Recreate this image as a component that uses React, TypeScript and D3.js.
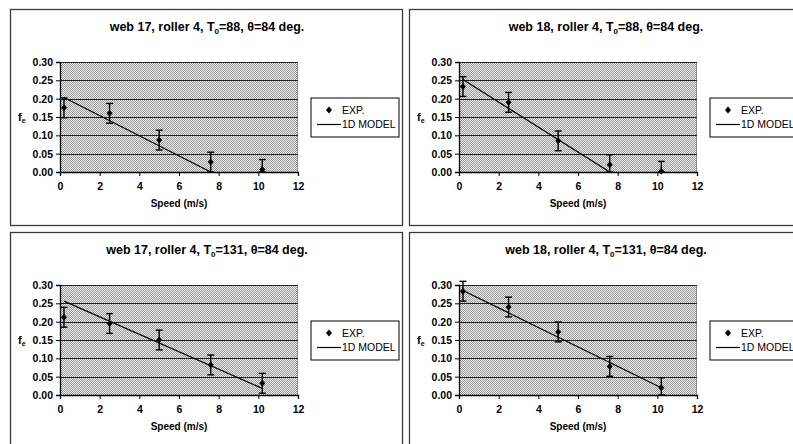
import * as d3 from "d3";
import { useEffect, useRef } from "react";

// speeds at which the experiments were run (m/s)
const speeds = [0.2, 2.5, 5.0, 7.6, 10.2];

// measured fe values, one array per chart
const exp17T88 = [0.175, 0.16, 0.087, 0.027, 0.007];
const exp18T88 = [0.233, 0.19, 0.085, 0.02, 0.002];
const exp17T131 = [0.212, 0.195, 0.15, 0.082, 0.032];
const exp18T131 = [0.283, 0.24, 0.172, 0.078, 0.02];

// half height of the error bars
const errorHalf = 0.027;

// 1D model lines, end points
const model17T88 = { x: [0.2, 7.6], y: [0.203, 0] };
const model18T88 = { x: [0.2, 7.6], y: [0.252, 0] };
const model17T131 = { x: [0.2, 10.2], y: [0.256, 0.018] };
const model18T131 = { x: [0.2, 10.2], y: [0.285, 0.02] };

const xTicks = [0, 2, 4, 6, 8, 10, 12];
const yTicks = [0, 0.05, 0.1, 0.15, 0.2, 0.25, 0.3];
const legendLabels = ["EXP.", "1D MODEL"];

const FONT = "'Liberation Sans', Arial, sans-serif";

interface PanelSpec {
  ox: number;
  oy: number;
  web: string;
  t0: string;
  exp: number[];
  model: { x: number[]; y: number[] };
}

const panels: PanelSpec[] = [
  { ox: 10, oy: 9, web: "17", t0: "88", exp: exp17T88, model: model17T88 },
  { ox: 409, oy: 9, web: "18", t0: "88", exp: exp18T88, model: model18T88 },
  { ox: 10, oy: 232, web: "17", t0: "131", exp: exp17T131, model: model17T131 },
  { ox: 409, oy: 232, web: "18", t0: "131", exp: exp18T131, model: model18T131 },
];

const panelW = 392;
const panelH = 216;
const plot = { left: 50, top: 53, width: 238, height: 110 };

// small squat diamond like the spreadsheet marker
const diamond = "M0,-3.4L3,0L0,3.4L-3,0Z";

function drawPanel(svg: any, p: PanelSpec) {
  const g = svg.append("g").attr("transform", `translate(${p.ox},${p.oy})`);

  // outer frame
  g.append("rect")
    .attr("x", 0.5)
    .attr("y", 0.5)
    .attr("width", panelW)
    .attr("height", panelH)
    .attr("fill", "white")
    .attr("stroke", "#3a3a3a")
    .attr("stroke-width", 1.3);

  const x = d3.scaleLinear().domain([0, 12]).range([0, plot.width]);
  const y = d3.scaleLinear().domain([0, 0.3]).range([plot.height, 0]);

  const chart = g
    .append("g")
    .attr("transform", `translate(${plot.left},${plot.top})`);

  chart
    .append("rect")
    .attr("width", plot.width)
    .attr("height", plot.height)
    .attr("fill", "url(#halftone)");

  // top / right border, greyish
  chart
    .append("path")
    .attr("d", `M0,0.5H${plot.width - 0.5}V${plot.height}`)
    .attr("fill", "none")
    .attr("stroke", "#8a8a8a")
    .attr("stroke-width", 1);

  // grid lines
  chart
    .append("g")
    .selectAll("line")
    .data(yTicks.slice(1))
    .enter()
    .append("line")
    .attr("x1", 0)
    .attr("x2", plot.width)
    .attr("y1", (d: number) => Math.round(y(d)) + 0.5)
    .attr("y2", (d: number) => Math.round(y(d)) + 0.5)
    .attr("stroke", "#222")
    .attr("stroke-width", 1);

  // y axis
  const yAxis = chart
    .append("g")
    .call(
      d3
        .axisLeft(y)
        .tickValues(yTicks)
        .tickSize(4)
        .tickPadding(3)
        .tickFormat((d: any) => d3.format(".2f")(d))
    );
  yAxis.select(".domain").attr("stroke", "black").attr("stroke-width", 1.3);
  yAxis.selectAll("line").attr("stroke", "black");
  yAxis
    .selectAll("text")
    .attr("fill", "black")
    .style("font-family", FONT)
    .style("font-weight", "bold")
    .style("font-size", "10.5px");

  // x axis
  const xAxis = chart
    .append("g")
    .attr("transform", `translate(0,${plot.height})`)
    .call(
      d3.axisBottom(x).tickValues(xTicks).tickSize(4).tickPadding(7).tickFormat(d3.format("d") as any)
    );
  xAxis.select(".domain").attr("stroke", "black").attr("stroke-width", 1.3);
  xAxis.selectAll("line").attr("stroke", "black");
  xAxis
    .selectAll("text")
    .attr("fill", "black")
    .style("font-family", FONT)
    .style("font-weight", "bold")
    .style("font-size", "10.5px");

  // model line
  const line = d3
    .line<number>()
    .x((d, i) => x(p.model.x[i]))
    .y((d) => y(d));
  chart
    .append("path")
    .attr("d", line(p.model.y))
    .attr("fill", "none")
    .attr("stroke", "black")
    .attr("stroke-width", 1.2);

  // error bars
  const bars = chart.append("g").attr("stroke", "black").attr("stroke-width", 1.4);
  p.exp.forEach((v, i) => {
    const cx = x(speeds[i]);
    const lo = y(Math.max(0, v - errorHalf));
    const hi = y(v + errorHalf);
    bars.append("line").attr("x1", cx).attr("x2", cx).attr("y1", lo).attr("y2", hi);
    bars.append("line").attr("x1", cx - 3.5).attr("x2", cx + 3.5).attr("y1", lo).attr("y2", lo);
    bars.append("line").attr("x1", cx - 3.5).attr("x2", cx + 3.5).attr("y1", hi).attr("y2", hi);
  });

  // points
  chart
    .append("g")
    .selectAll("path")
    .data(p.exp)
    .enter()
    .append("path")
    .attr("d", diamond)
    .attr("transform", (d: number, i: number) => `translate(${x(speeds[i])},${y(d)})`)
    .attr("fill", "black");

  // title
  const title = g
    .append("text")
    .attr("x", plot.left + plot.width / 2 + 28)
    .attr("y", 22)
    .attr("text-anchor", "middle")
    .style("font-family", FONT)
    .style("font-weight", "bold")
    .style("font-size", "12.5px");
  title.append("tspan").text(`web ${p.web}, roller 4, T`);
  title.append("tspan").attr("dy", 3).style("font-size", "8px").text("0");
  title.append("tspan").attr("dy", -3).text(`=${p.t0}, θ=84 deg.`);

  // x label
  g.append("text")
    .attr("x", plot.left + plot.width / 2)
    .attr("y", plot.top + plot.height + 35)
    .attr("text-anchor", "middle")
    .style("font-family", FONT)
    .style("font-weight", "bold")
    .style("font-size", "10px")
    .text("Speed (m/s)");

  // y label
  const yl = g
    .append("text")
    .attr("x", 8)
    .attr("y", plot.top + y(0.15) + 4)
    .style("font-family", FONT)
    .style("font-weight", "bold")
    .style("font-size", "11px");
  yl.append("tspan").text("f");
  yl.append("tspan").attr("dy", 2).style("font-size", "7px").text("e");

  // legend
  const lg = g
    .append("g")
    .attr("transform", `translate(${plot.left + plot.width + 13},${plot.top + 36})`);
  lg.append("rect")
    .attr("width", 88)
    .attr("height", 39)
    .attr("fill", "white")
    .attr("stroke", "black")
    .attr("stroke-width", 1);
  lg.append("path")
    .attr("d", diamond)
    .attr("transform", "translate(18,12)")
    .attr("fill", "black");
  lg.append("line")
    .attr("x1", 6)
    .attr("x2", 30)
    .attr("y1", 26.5)
    .attr("y2", 26.5)
    .attr("stroke", "black")
    .attr("stroke-width", 1.2);
  lg.selectAll("text.lab")
    .data(legendLabels)
    .enter()
    .append("text")
    .attr("class", "lab")
    .attr("x", 31)
    .attr("y", (d: string, i: number) => 15.5 + i * 14.5)
    .style("font-family", FONT)
    .style("font-size", "10.5px")
    .text((d: string) => d);
}

export default function App() {
  const ref = useRef<SVGSVGElement>(null);

  useEffect(() => {
    document.body.style.margin = "0";
    const svg = d3.select(ref.current);
    svg.selectAll("*").remove();

    const defs = svg.append("defs");
    const pat = defs
      .append("pattern")
      .attr("id", "halftone")
      .attr("patternUnits", "userSpaceOnUse")
      .attr("width", 2)
      .attr("height", 2);
    pat.append("rect").attr("width", 2).attr("height", 2).attr("fill", "#eeeeee");
    pat.append("rect").attr("width", 1).attr("height", 1).attr("fill", "#999999");
    pat.append("rect").attr("x", 1).attr("y", 1).attr("width", 1).attr("height", 1).attr("fill", "#999999");

    panels.forEach((p) => drawPanel(svg, p));
  }, []);

  return (
    <svg
      ref={ref}
      width={793}
      height={444}
      style={{ position: "absolute", left: 0, top: 0, background: "white" }}
    ></svg>
  );
}
